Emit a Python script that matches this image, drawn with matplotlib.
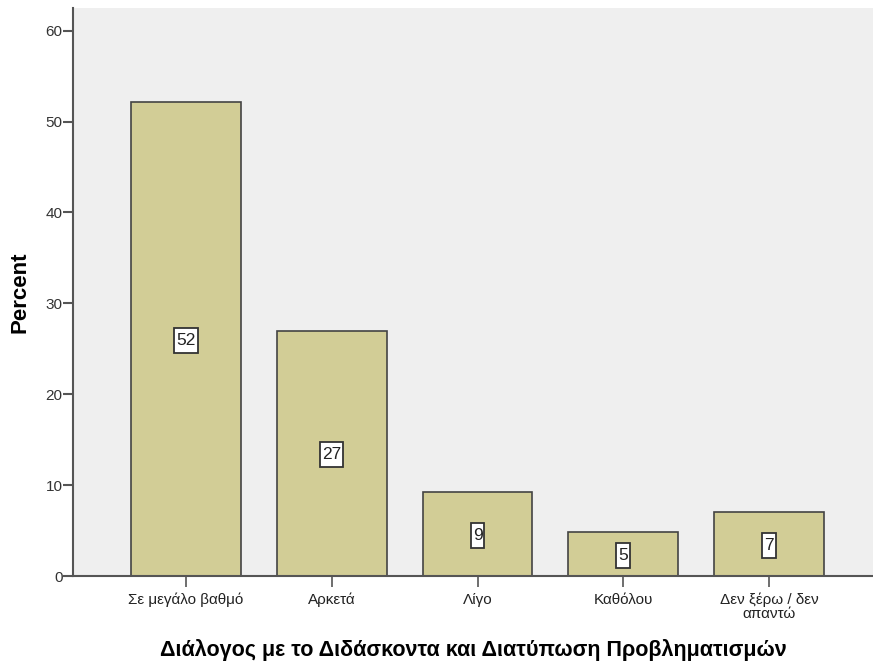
import matplotlib.pyplot as plt
from matplotlib.path import Path

categories = ["Σε μεγάλο βαθμό", "Αρκετά", "Λίγο", "Καθόλου", "Δεν ξέρω / δεν\nαπαντώ"]
percent = [52.2, 27.0, 9.2, 4.8, 7.0]
labels = ["52", "27", "9", "5", "7"]

plt.rcParams['font.family'] = ['Liberation Sans', 'DejaVu Sans']


# label box: narrow sideways, taller up and down (SPSS style)
def tall_box(x0, y0, width, height, mutation_size):
    px = 0.12 * mutation_size
    py = 0.28 * mutation_size
    x0, y0 = x0 - px, y0 - py
    x1, y1 = x0 + width + 2 * px, y0 + height + 2 * py
    return Path([(x0, y0), (x1, y0), (x1, y1), (x0, y1), (x0, y0)], closed=True)


fig = plt.figure(figsize=(8.73, 6.62), dpi=100)
ax = fig.add_axes([73 / 873, 1 - 576 / 662, 1 - 73 / 873, (576 - 8) / 662])
ax.set_facecolor('#efefef')

x = range(len(categories))
ax.bar(x, percent, width=0.753, color='#d2cd96', edgecolor='#444444', linewidth=1.2, zorder=2)

for i, (v, lab) in enumerate(zip(percent, labels)):
    ax.text(i, v / 2, lab, ha='center', va='center_baseline', fontsize=12.5, color='#222222', zorder=3,
            bbox=dict(boxstyle=tall_box, facecolor='white', edgecolor='#333333', linewidth=1.3))

ax.set_xlim(-0.774, 4.712)
ax.set_ylim(0, 62.5)
ax.set_yticks([0, 10, 20, 30, 40, 50, 60])
ax.set_xticks(list(x))
ax.set_xticklabels(categories, fontsize=11, linespacing=0.95, color='#222222')

for s in ['top', 'right']:
    ax.spines[s].set_visible(False)
for s in ['left', 'bottom']:
    ax.spines[s].set_color('#555555')
    ax.spines[s].set_linewidth(1.5)

ax.tick_params(axis='y', length=7, width=1.5, color='#555555', labelsize=11, pad=0.5, labelcolor='#333333')
ax.tick_params(axis='x', length=8, width=1.2, color='#555555', pad=4)

ax.set_ylabel("Percent", fontsize=16, fontweight='bold', labelpad=11)
ax.set_xlabel("Διάλογος με το Διδάσκοντα και Διατύπωση Προβληματισμών",
              fontsize=15.5, fontweight='bold', labelpad=13)

fig.savefig("out.png", dpi=100)
